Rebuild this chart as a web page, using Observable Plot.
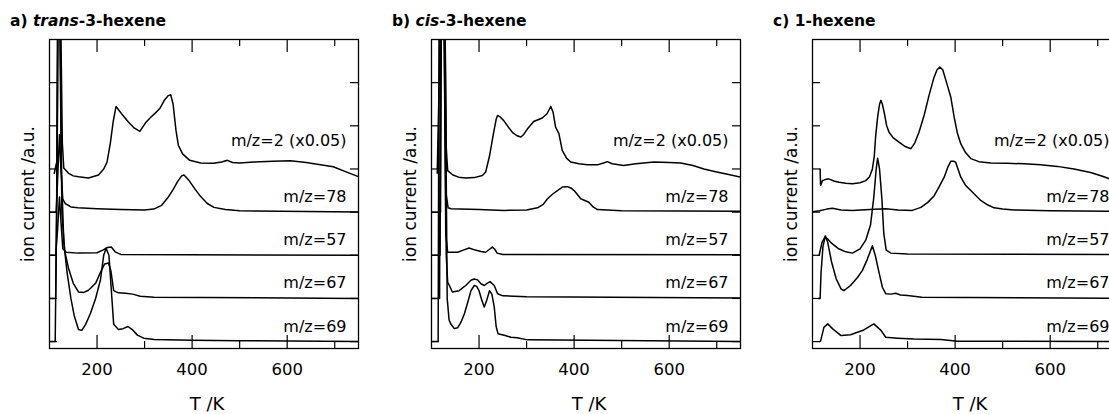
<!DOCTYPE html>
<html><head><meta charset="utf-8">
<script src="https://cdn.jsdelivr.net/npm/d3@7"></script>
<script src="https://cdn.jsdelivr.net/npm/@observablehq/plot@0.6"></script>
<style>
body{margin:0;background:#fff;}
#root{position:relative;width:1109px;height:414px;overflow:hidden;background:#fff;}
.panel{position:absolute;top:0;width:382px;height:414px;}
.title{height:30px;box-sizing:border-box;padding-top:12px;padding-left:10px;font:bold 15.5px/18px "DejaVu Sans",sans-serif;white-space:nowrap;color:#000;}
.panel svg{display:block;}
</style></head><body><div id="root"></div>
<script>
// ---- axes / labels ----
const temperatureDomain = [100, 750];
const xTickMajor = [200, 400, 600];
const xTickMinor = [300, 500, 700];
const yTicks = [0, 1, 2, 3, 4, 5, 6];
const seriesLabels = ["m/z=2 (x0.05)", "m/z=78", "m/z=57", "m/z=67", "m/z=69"];
const seriesBaselines = [4, 3, 2, 1, 0];
const panelPrefix = ["a) ", "b) ", "c) "];
const panelItalic = ["trans", "cis", ""];
const panelSuffix = ["-3-hexene", "-3-hexene", "1-hexene"];
const xLabel = "T /K";
const yLabel = "ion current /a.u.";

// ---- a) trans-3-hexene : [T (K), stacked ion current] ----
const trans_mz2 = [[110,3.9],[116,4.2],[118,8],[123,8],[127,4.6],[130,4.02],[140,3.9],[150,3.84],[161,3.82],[182,3.79],[203,3.86],[214,4.0],[221,4.16],[228,4.6],[234,5.1],[240,5.45],[246,5.36],[253,5.26],[265,5.1],[278,4.95],[290,4.87],[302,5.07],[313,5.2],[323,5.3],[332,5.4],[342,5.6],[350,5.7],[355,5.72],[360,5.5],[366,4.9],[371,4.55],[380,4.35],[395,4.2],[418,4.14],[445,4.13],[462,4.16],[474,4.2],[485,4.15],[500,4.14],[530,4.16],[570,4.18],[607,4.19],[640,4.15],[670,4.1],[697,4.05],[720,3.95],[750,3.82]];
const trans_mz78 = [[102,3.0],[114,3.0],[118,4.0],[121,4.8],[124,4.0],[128,3.3],[133,3.2],[145,3.12],[160,3.1],[200,3.08],[250,3.06],[300,3.05],[319,3.07],[335,3.15],[348,3.32],[360,3.52],[369,3.7],[378,3.84],[383,3.86],[393,3.74],[405,3.55],[418,3.36],[432,3.2],[446,3.11],[470,3.06],[500,3.03],[750,3.0]];
const trans_mz57 = [[102,2.0],[113,2.0],[117,2.6],[121,3.35],[124,2.8],[128,2.15],[135,2.07],[160,2.05],[200,2.06],[212,2.12],[222,2.18],[230,2.19],[238,2.08],[250,2.02],[750,2.0]];
const trans_mz67 = [[102,1.0],[113,1.0],[116,4],[118,8],[122,8],[126,3],[132,2.1],[140,1.7],[150,1.35],[161,1.15],[172,1.14],[182,1.19],[197,1.35],[207,1.6],[216,1.8],[224,1.82],[229,1.65],[235,1.18],[245,1.13],[260,1.12],[275,1.1],[291,1.05],[320,1.03],[750,1.0]];
const trans_mz69 = [[102,0],[112,0],[115,3],[117,8],[121,8],[125,4],[130,2.3],[137,1.6],[145,1.0],[152,0.6],[161,0.28],[168,0.26],[176,0.4],[186,0.65],[197,1.0],[207,1.42],[214,2.0],[219,2.16],[225,2.0],[230,1.2],[235,0.4],[245,0.28],[255,0.3],[265,0.35],[275,0.27],[285,0.15],[298,0.08],[320,0.05],[400,0.03],[500,0.02],[750,0.0]];

// ---- b) cis-3-hexene ----
const cis_mz2 = [[112,3.9],[120,8],[128,8],[131,4.5],[134,3.96],[145,3.86],[157,3.81],[172,3.79],[190,3.8],[207,3.85],[214,3.93],[222,4.3],[230,4.8],[236,5.15],[239,5.24],[245,5.2],[252,5.12],[261,4.98],[270,4.85],[280,4.77],[288,4.74],[294,4.8],[302,4.93],[315,5.1],[333,5.18],[343,5.28],[351,5.45],[356,5.3],[361,4.97],[368,4.82],[375,4.43],[384,4.25],[393,4.16],[410,4.12],[428,4.1],[450,4.1],[462,4.14],[470,4.17],[480,4.12],[504,4.08],[530,4.12],[568,4.16],[600,4.15],[624,4.14],[650,4.08],[673,4.0],[700,3.93],[725,3.87],[750,3.81]];
const cis_mz78 = [[102,3.0],[119,3.0],[121,8],[127,8],[131,3.4],[135,3.1],[141,3.08],[200,3.06],[252,3.04],[300,3.05],[323,3.1],[335,3.18],[344,3.31],[355,3.42],[365,3.5],[375,3.58],[386,3.59],[393,3.56],[400,3.5],[414,3.31],[431,3.23],[440,3.12],[449,3.06],[500,3.03],[750,3.02]];
const cis_mz57 = [[102,2.0],[118,2.0],[120,8],[126,8],[130,2.5],[134,2.07],[155,2.07],[167,2.12],[179,2.17],[192,2.12],[204,2.09],[214,2.07],[222,2.14],[228,2.19],[233,2.14],[238,2.05],[250,2.02],[750,2.01]];
const cis_mz67 = [[102,1.0],[117,1.0],[119,8],[126,8],[131,2.0],[134,1.38],[144,1.15],[158,1.18],[172,1.3],[183,1.42],[190,1.45],[197,1.43],[204,1.34],[211,1.3],[217,1.35],[223,1.39],[232,1.3],[239,1.11],[250,1.06],[300,1.04],[750,1.01]];
const cis_mz69 = [[102,0],[114,0],[116,8],[128,8],[133,1.0],[137,0.5],[141,0.4],[148,0.3],[155,0.32],[162,0.45],[169,0.64],[176,0.9],[183,1.18],[190,1.3],[195,1.28],[200,1.18],[206,0.95],[211,0.8],[216,0.95],[222,1.18],[227,1.1],[232,0.8],[236,0.35],[240,0.18],[255,0.14],[267,0.1],[280,0.09],[302,0.04],[750,0.0]];

// ---- c) 1-hexene ----
const hex1_mz2 = [[116,4.0],[117,3.62],[121,3.73],[128,3.76],[134,3.77],[145,3.72],[156,3.69],[170,3.67],[184,3.66],[200,3.68],[212,3.73],[220,3.82],[226,4.0],[230,4.3],[233,4.78],[237,5.2],[241,5.5],[244,5.59],[247,5.5],[251,5.3],[256,5.0],[261,4.85],[270,4.72],[282,4.62],[295,4.52],[307,4.47],[315,4.6],[324,4.85],[335,5.25],[345,5.7],[355,6.1],[362,6.3],[368,6.36],[374,6.3],[382,6.0],[391,5.66],[398,5.2],[405,4.82],[412,4.58],[422,4.38],[433,4.24],[450,4.17],[475,4.14],[510,4.13],[545,4.12],[580,4.1],[615,4.06],[650,4.0],[685,3.92],[710,3.83],[725,3.77],[750,3.68]];
const hex1_mz78 = [[100,3.01],[115,3.03],[130,3.07],[142,3.09],[160,3.05],[184,3.04],[220,3.06],[254,3.08],[280,3.05],[310,3.04],[328,3.11],[342,3.22],[356,3.38],[366,3.58],[377,3.81],[385,4.05],[391,4.18],[397,4.18],[401,4.16],[406,4.0],[412,3.81],[422,3.62],[433,3.5],[444,3.38],[454,3.27],[468,3.17],[482,3.1],[500,3.07],[524,3.05],[600,3.03],[750,3.02]];
const hex1_mz57 = [[114,2.0],[120,2.3],[126,2.42],[132,2.38],[140,2.28],[155,2.15],[170,2.08],[184,2.05],[200,2.15],[212,2.35],[222,2.7],[229,3.35],[234,4.0],[237,4.25],[241,4.0],[246,3.3],[250,2.5],[255,2.12],[265,2.05],[300,2.03],[750,2.02]];
const hex1_mz67 = [[112,1.0],[116,1.0],[118,1.6],[122,2.2],[127,2.45],[132,2.3],[140,1.85],[150,1.45],[160,1.22],[166,1.18],[180,1.3],[195,1.49],[205,1.65],[215,1.9],[226,2.22],[232,2.0],[240,1.6],[247,1.26],[254,1.11],[265,1.1],[275,1.12],[285,1.08],[300,1.07],[330,1.03],[750,1.0]];
const hex1_mz69 = [[114,0],[117,0.01],[124,0.33],[132,0.41],[142,0.3],[160,0.14],[180,0.16],[208,0.27],[229,0.41],[244,0.26],[254,0.1],[279,0.08],[314,0.06],[370,0.05],[405,0.01],[750,0.0]];

const panels = [
  [trans_mz2, trans_mz78, trans_mz57, trans_mz67, trans_mz69],
  [cis_mz2, cis_mz78, cis_mz57, cis_mz67, cis_mz69],
  [hex1_mz2, hex1_mz78, hex1_mz57, hex1_mz67, hex1_mz69]
];
const panelLefts = [0, 382, 763];

const W = 382, H = 384, mT = 9, mB = 66, mL = 49, mR = 24;
const pw = W - mL - mR, ph = H - mT - mB;
const root = document.getElementById("root");

panels.forEach((series, p) => {
  const div = document.createElement("div");
  div.className = "panel";
  div.style.left = panelLefts[p] + "px";
  const title = document.createElement("div");
  title.className = "title";
  title.appendChild(document.createTextNode(panelPrefix[p]));
  if (panelItalic[p]) { const i = document.createElement("i"); i.textContent = panelItalic[p]; title.appendChild(i); }
  title.appendChild(document.createTextNode(panelSuffix[p]));
  div.appendChild(title);

  const rows = series.flatMap((s, k) => s.map(([T, v]) => ({T, v, series: seriesLabels[k]})));
  const labels = seriesLabels.map((label, k) => ({label, y: seriesBaselines[k] + (k === 0 ? 0.64 : 0.35)}));

  const svg = Plot.plot({
    width: W, height: H, marginTop: mT, marginBottom: mB, marginLeft: mL, marginRight: mR,
    style: {fontFamily: "DejaVu Sans, sans-serif", color: "#000", background: "#fff", overflow: "visible"},
    x: {domain: temperatureDomain},
    y: {domain: [-0.16, 7], axis: null},
    marks: [
      Plot.line(rows, {x: "T", y: "v", z: "series", stroke: "#000", strokeWidth: 1.5, clip: true}),
      Plot.tickX(xTickMajor, {x: d => d, insetTop: ph - 13, strokeWidth: 1.2}),
      Plot.tickX(xTickMajor, {x: d => d, insetBottom: ph - 13, strokeWidth: 1.2}),
      Plot.tickX(xTickMinor, {x: d => d, insetTop: ph - 7, strokeWidth: 1.2}),
      Plot.tickX(xTickMinor, {x: d => d, insetBottom: ph - 7, strokeWidth: 1.2}),
      Plot.tickY(yTicks, {y: d => d, insetRight: pw - 8, strokeWidth: 1.2}),
      Plot.tickY(yTicks, {y: d => d, insetLeft: pw - 8, strokeWidth: 1.2}),
      Plot.frame({stroke: "#000", strokeWidth: 1.3}),
      Plot.axisX(xTickMajor, {tickSize: 0, tickPadding: 15, fontSize: 16.5, label: null}),
      Plot.text(labels, {x: () => temperatureDomain[1], y: "y", text: "label", textAnchor: "end", dx: -12, fontSize: 16, fill: "#000"}),
      Plot.text([xLabel], {text: d => d, frameAnchor: "bottom", textAnchor: "middle", dy: 61, dx: 3, fontSize: 18, fill: "#000"}),
      Plot.text([yLabel], {text: d => d, frameAnchor: "left", textAnchor: "middle", dx: -21, rotate: -90, fontSize: 17, fill: "#000"})
    ]
  });
  div.appendChild(svg);
  root.appendChild(div);
});
</script></body></html>
